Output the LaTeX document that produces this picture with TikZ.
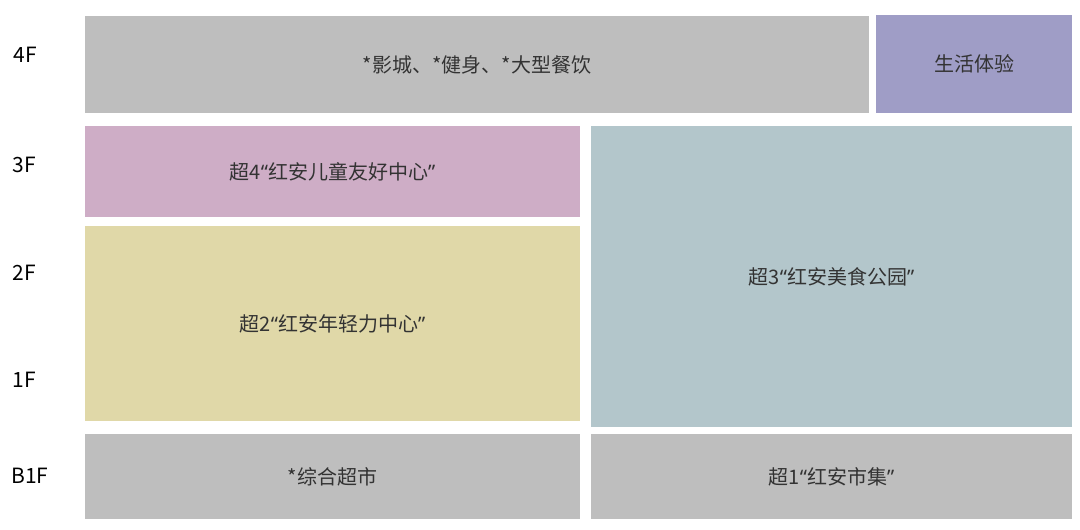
\documentclass[tikz,border=0pt]{standalone}
\usepackage{fontspec}
\setmainfont{Noto Sans CJK SC}
\newfontfamily\quotefont{Noto Sans}
\usepackage{xcolor}
\usepackage{tikz}
\definecolor{zonegray}{HTML}{BEBEBE}
\definecolor{zonepurple}{HTML}{9F9DC6}
\definecolor{zonepink}{HTML}{CEADC6}
\definecolor{zoneyellow}{HTML}{E0D8A8}
\definecolor{zoneteal}{HTML}{B3C6CB}
\definecolor{zonetext}{HTML}{333333}
\newcommand{\oquote}{{\quotefont “}}
\newcommand{\cquote}{{\quotefont ”}}

\begin{document}
\begin{tikzpicture}[x=1pt,y=-1pt]
\tikzstyle{every node}+=[inner sep=0pt]
\tikzstyle{zone}=[rectangle, text=zonetext, font=\fontsize{20}{24}\selectfont]
\tikzstyle{floor}=[text=black, font=\fontsize{21}{24}\selectfont]
\useasboundingbox (0,0) rectangle (1080,530);
% floors
\node [floor] (f4) at (25,55) {4F};
\node [floor] (f3) at (24,165) {3F};
\node [floor] (f2) at (24,273) {2F};
\node [floor] (f1) at (24,380) {1F};
\node [floor] (fb1) at (30,476) {B1F};
% zones
\node [zone, fill=zonegray, minimum width=784pt, minimum height=97pt] (cinema) at (477,64.5) {*影城、*健身、*大型餐饮};
\node [zone, fill=zonepurple, minimum width=196pt, minimum height=98pt] (life) at (974,64) {生活体验};
\node [zone, fill=zonepink, minimum width=495pt, minimum height=91pt] (kids) at (332.5,171.5) {超4\oquote 红安儿童友好中心\cquote};
\node [zone, fill=zoneyellow, minimum width=495pt, minimum height=195pt] (youth) at (332.5,323.5) {超2\oquote 红安年轻力中心\cquote};
\node [zone, fill=zoneteal, minimum width=481pt, minimum height=301pt] (food) at (831.5,276.5) {超3\oquote 红安美食公园\cquote};
\node [zone, fill=zonegray, minimum width=495pt, minimum height=85pt] (market) at (332.5,476.5) {*综合超市};
\node [zone, fill=zonegray, minimum width=481pt, minimum height=85pt] (fair) at (831.5,476.5) {超1\oquote 红安市集\cquote};
\end{tikzpicture}
\end{document}
